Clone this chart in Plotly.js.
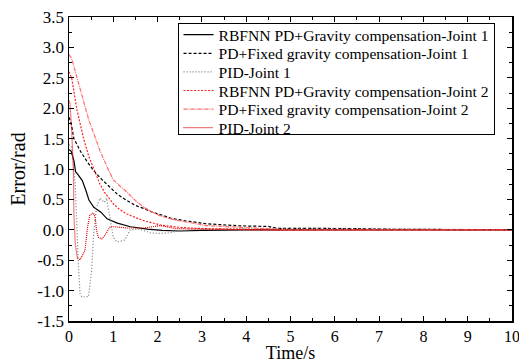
<!DOCTYPE html>
<html>
<head>
<meta charset="utf-8">
<script src="https://cdn.plot.ly/plotly-3.0.1.min.js"></script>
<style>html,body{margin:0;padding:0;background:#fff;}#chart{width:519px;height:363px;}</style>
</head>
<body>
<div id="chart"></div>
<script>
// Series names
const seriesNames = [
  "RBFNN PD+Gravity compensation-Joint 1",
  "PD+Fixed gravity compensation-Joint 1",
  "PID-Joint 1",
  "RBFNN PD+Gravity compensation-Joint 2",
  "PD+Fixed gravity compensation-Joint 2",
  "PID-Joint 2"
];

// RBFNN PD + gravity compensation, joint 1
const tRbf1 = [0, 0.05, 0.11, 0.15, 0.19, 0.30, 0.38, 0.45, 0.56, 0.72, 0.86, 1.09, 1.39, 1.77, 2.1, 2.5, 3.0, 3.5, 4, 5, 6, 7, 8, 9, 10];
const eRbf1 = [1.32, 1.29, 1.14, 0.95, 0.92, 0.81, 0.65, 0.49, 0.37, 0.29, 0.18, 0.11, 0.05, 0.01, -0.01, -0.02, -0.01, 0, 0, 0, 0, 0, 0, 0, 0];

// PD + fixed gravity compensation, joint 1
const tPd1 = [0, 0.05, 0.11, 0.26, 0.41, 0.56, 0.75, 0.93, 1.1, 1.31, 1.5, 1.69, 1.88, 2.06, 2.3, 2.6, 2.81, 3.1, 3.86, 4.5, 4.7, 5.5, 6.5, 7, 8, 9, 10];
const ePd1 = [1.85, 1.75, 1.50, 1.29, 1.12, 0.97, 0.82, 0.70, 0.58, 0.48, 0.40, 0.35, 0.29, 0.25, 0.19, 0.15, 0.13, 0.10, 0.065, 0.055, 0.025, 0.025, 0.02, 0.01, 0.005, 0, 0];

// PID, joint 1
const tPid1 = [0, 0.06, 0.14, 0.17, 0.21, 0.25, 0.30, 0.36, 0.44, 0.51, 0.55, 0.62, 0.70, 0.77, 0.80, 0.85, 0.93, 1.0, 1.08, 1.26, 1.38, 1.6, 1.83, 2.05, 2.28, 2.5, 3, 3.5, 4, 5, 6, 7, 8, 9, 10];
const ePid1 = [1.40, 1.36, 0.76, 0.10, -0.55, -1.05, -1.11, -1.10, -1.10, -0.67, -0.12, 0.37, 0.52, 0.47, 0.45, 0.52, 0.21, -0.12, -0.20, -0.17, 0.0, 0.01, -0.05, -0.06, -0.05, -0.01, 0.01, 0.02, 0.02, 0.025, 0.025, 0.02, 0.01, 0, 0];

// RBFNN PD + gravity compensation, joint 2
const tRbf2 = [0, 0.06, 0.18, 0.26, 0.33, 0.45, 0.56, 0.70, 0.80, 1.01, 1.15, 1.31, 1.5, 1.69, 2.06, 2.5, 3, 3.5, 4, 5, 6, 7, 8, 9, 10];
const eRbf2 = [2.60, 2.50, 1.97, 1.69, 1.50, 1.20, 1.00, 0.75, 0.62, 0.42, 0.33, 0.26, 0.20, 0.15, 0.08, 0.04, 0.02, 0.01, 0, -0.01, 0, 0, 0, 0, 0];

// PD + fixed gravity compensation, joint 2
const tPd2 = [0, 0.06, 0.20, 0.33, 0.45, 0.56, 0.70, 0.85, 1.0, 1.15, 1.31, 1.5, 1.69, 1.88, 2.06, 2.4, 2.81, 3.1, 3.86, 4.5, 5, 6, 7, 8, 9, 10];
const ePd2 = [2.88, 2.82, 2.45, 2.10, 1.80, 1.58, 1.30, 1.05, 0.82, 0.72, 0.62, 0.48, 0.37, 0.29, 0.23, 0.16, 0.10, 0.07, 0.04, 0.02, 0.0, 0, 0, 0, 0, 0];

// PID, joint 2
const tPid2 = [0, 0.02, 0.06, 0.10, 0.11, 0.14, 0.19, 0.25, 0.36, 0.42, 0.47, 0.55, 0.59, 0.62, 0.66, 0.74, 0.81, 0.93, 1.04, 1.3, 1.7, 2.06, 2.4, 3, 4, 5, 6, 7, 8, 9, 10];
const ePid2 = [2.12, 2.10, 1.64, 0.98, 0.27, -0.22, -0.47, -0.49, -0.34, 0.05, 0.24, 0.28, 0.21, 0.0, -0.12, -0.15, -0.09, 0.05, 0.05, 0.03, 0.03, 0.07, 0.02, 0.01, 0, 0, 0, 0, 0, 0, 0];

// Tick labels
const yTickVals = [-1.5, -1.0, -0.5, 0.0, 0.5, 1.0, 1.5, 2.0, 2.5, 3.0, 3.5];
const yTickText = ["-1.5", "-1.0", "-0.5", "0.0", "0.5", "1.0", "1.5", "2.0", "2.5", "3.0", "3.5"];
const xTickVals = [0, 1, 2, 3, 4, 5, 6, 7, 8, 9, 10];
const xTickText = ["0", "1", "2", "3", "4", "5", "6", "7", "8", "9", "10"];

const xs = [tRbf1, tPd1, tPid1, tRbf2, tPd2, tPid2];
const ys = [eRbf1, ePd1, ePid1, eRbf2, ePd2, ePid2];
const styles = [
  {color: "#000000", width: 1.2, dash: "solid"},
  {color: "#000000", width: 1.2, dash: "3px,2px"},
  {color: "#777777", width: 1.2, dash: "1px,2px"},
  {color: "#ff2020", width: 1.2, dash: "2px,1.5px"},
  {color: "#ff6a6a", width: 1.2, dash: "4px,1px,1px,1px"},
  {color: "#e00000", width: 1.2, dash: "1px,1px"}
];

const traces = seriesNames.map((n, i) => ({
  type: "scatter", mode: "lines", name: n,
  x: xs[i], y: ys[i],
  line: styles[i]
}));

const font = "'Liberation Serif', 'Times New Roman', serif";
const axisCommon = {
  showline: true, linecolor: "#000", linewidth: 1.5, mirror: "ticks",
  ticks: "inside", ticklen: 5, tickwidth: 1, tickcolor: "#000",
  showgrid: false, zeroline: false, ticklabeloverflow: "allow",
  tickfont: {family: font, size: 17, color: "#000"}
};

const layout = {
  width: 519, height: 363,
  margin: {l: 69, r: 7, t: 17, b: 42, pad: 0},
  paper_bgcolor: "#fff", plot_bgcolor: "#fff",
  showlegend: true,
  legend: {
    x: 0.245, y: 0.98, xanchor: "left", yanchor: "top",
    bgcolor: "#fff", bordercolor: "#000", borderwidth: 1,
    font: {family: font, size: 15.6, color: "#000"},
    tracegroupgap: 0, itemwidth: 30
  },
  xaxis: Object.assign({}, axisCommon, {
    range: [0, 10], tickvals: xTickVals, ticktext: xTickText,
    tickfont: {family: font, size: 16, color: "#000"},
    minor: {dtick: 0.5, ticks: "inside", ticklen: 3, tickcolor: "#000", showgrid: false},
    title: {text: "Time/s", font: {family: font, size: 18, color: "#000"}, standoff: 5}
  }),
  yaxis: Object.assign({}, axisCommon, {
    range: [-1.5, 3.5], tickvals: yTickVals, ticktext: yTickText,
    minor: {dtick: 0.25, tick0: 0, ticks: "inside", ticklen: 3, tickcolor: "#000", showgrid: false},
    title: {text: "Error/rad", font: {family: font, size: 20, color: "#000"}, standoff: 6}
  })
};

Plotly.newPlot("chart", traces, layout, {displayModeBar: false, staticPlot: true}).then(function () {
  // tighten legend row spacing to match the reference
  const rowGap = 18.6;
  const items = document.querySelectorAll(".legend .traces");
  if (!items.length) return;
  const parse = (g) => {
    const m = /translate\(\s*([-\d.]+)[ ,]+([-\d.]+)\s*\)/.exec(g.getAttribute("transform") || "");
    return m ? [parseFloat(m[1]), parseFloat(m[2])] : [0, 0];
  };
  const first = parse(items[0]);
  const y0 = first[1] - 6;
  let lastY = y0;
  items.forEach((g, i) => {
    const p = parse(g);
    lastY = y0 + i * rowGap;
    g.setAttribute("transform", "translate(" + p[0] + "," + lastY + ")");
  });
  const bg = document.querySelector(".legend .bg");
  if (bg) bg.setAttribute("height", lastY + 6);
});
</script>
</body>
</html>
